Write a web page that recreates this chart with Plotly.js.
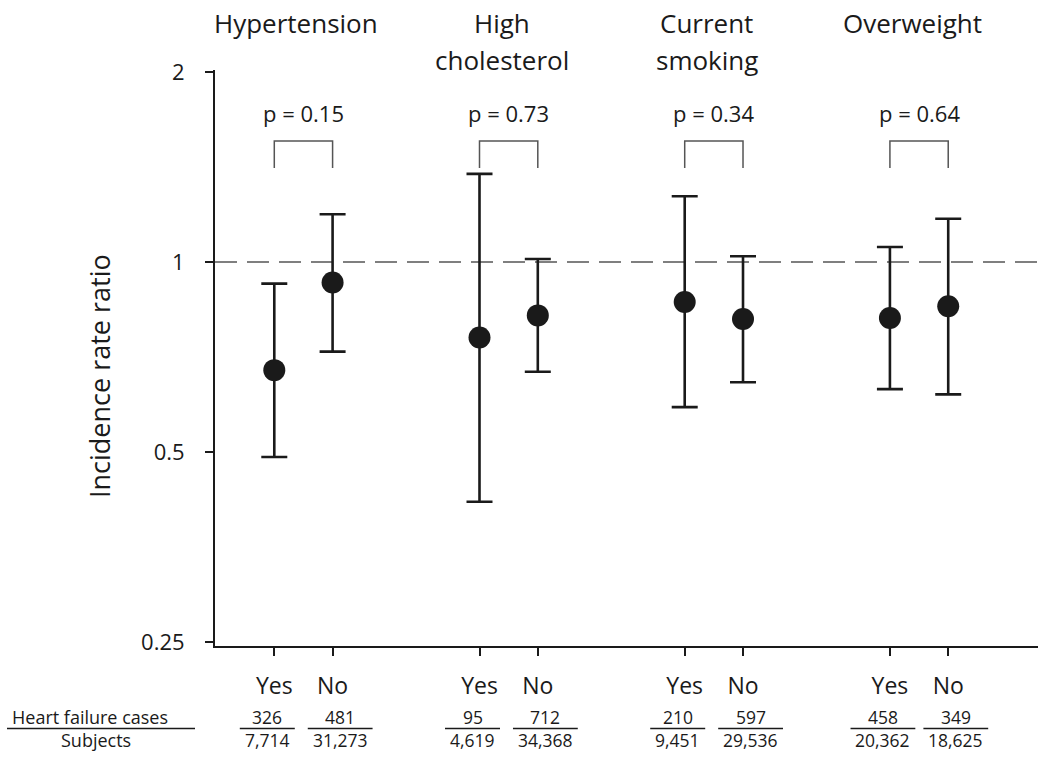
<!DOCTYPE html>
<html>
<head>
<meta charset="utf-8">
<script src="https://cdn.plot.ly/plotly-3.0.1.min.js"></script>
<style>
  html, body { margin: 0; padding: 0; background: #fff; }
  #plot { width: 1050px; height: 763px; }
</style>
</head>
<body>
<div id="plot"></div>
<script>
// Data
const titleLine1 = ['Hypertension', 'High', 'Current', 'Overweight'];
const titleLine2 = ['', 'cholesterol', 'smoking', ''];
const pValues = ['p = 0.15', 'p = 0.73', 'p = 0.34', 'p = 0.64'];
const levels = ['Yes', 'No'];

// incidence rate ratios, [Yes, No] per factor
const irr = [[0.674, 0.928], [0.759, 0.823], [0.864, 0.812], [0.815, 0.851]];
const ciLow = [[0.491, 0.721], [0.417, 0.670], [0.589, 0.645], [0.629, 0.617]];
const ciHigh = [[0.924, 1.19], [1.379, 1.011], [1.271, 1.021], [1.056, 1.171]];

const cases = [['326', '481'], ['95', '712'], ['210', '597'], ['458', '349']];
const subjects = [['7,714', '31,273'], ['4,619', '34,368'], ['9,451', '29,536'], ['20,362', '18,625']];

// Layout helpers
const GROUP_STEP = 3.52;
const FONT = 'Open Sans, Liberation Sans, sans-serif';
const INK = '#1a1a1a';
const PLOT_TOP = 70, PLOT_BOTTOM = 646, PLOT_LEFT = 215, PLOT_RIGHT = 1038;
const H = PLOT_BOTTOM - PLOT_TOP;
const py = p => (PLOT_BOTTOM - p) / H;            // pixel row -> paper y
const pxs = p => (p - PLOT_LEFT) / (PLOT_RIGHT - PLOT_LEFT); // pixel col -> paper x

const xs = [], ys = [], up = [], down = [], tickVals = [], tickText = [];
irr.forEach((pair, g) => {
    pair.forEach((v, j) => {
        const x = g * GROUP_STEP + j;
        xs.push(x);
        ys.push(v);
        up.push(ciHigh[g][j] - v);
        down.push(v - ciLow[g][j]);
        tickVals.push(x);
        tickText.push(levels[j]);
    });
});

const traces = [{
    x: xs,
    y: ys,
    type: 'scatter',
    mode: 'markers',
    marker: { size: 22, color: INK },
    error_y: {
        type: 'data',
        symmetric: false,
        array: up,
        arrayminus: down,
        color: INK,
        thickness: 2.6,
        width: 13
    },
    hoverinfo: 'x+y',
    showlegend: false
}];

const annotations = [];
const shapes = [];

// reference line at 1
shapes.push({
    type: 'line', xref: 'paper', x0: 0, x1: 1, yref: 'y', y0: 1, y1: 1,
    line: { color: '#555', width: 1.5, dash: '22px,10px' }, layer: 'below'
});

titleLine1.forEach((t, g) => {
    const xc = g * GROUP_STEP + 0.5 - 0.12;
    annotations.push({ x: xc, xref: 'x', y: py(23), yref: 'paper', text: t, showarrow: false,
        font: { family: FONT, size: 26, color: INK }, xanchor: 'center', yanchor: 'middle' });
    if (titleLine2[g]) {
        annotations.push({ x: xc, xref: 'x', y: py(60), yref: 'paper', text: titleLine2[g], showarrow: false,
            font: { family: FONT, size: 26, color: INK }, xanchor: 'center', yanchor: 'middle' });
    }
    annotations.push({ x: g * GROUP_STEP + 0.5, xref: 'x', y: py(113), yref: 'paper', text: pValues[g], showarrow: false,
        font: { family: FONT, size: 22, color: INK }, xanchor: 'center', yanchor: 'middle' });

    // bracket joining Yes and No
    shapes.push({
        type: 'path', xref: 'x', yref: 'paper',
        path: `M ${g * GROUP_STEP},${py(168)} L ${g * GROUP_STEP},${py(141)} L ${g * GROUP_STEP + 1},${py(141)} L ${g * GROUP_STEP + 1},${py(168)}`,
        line: { color: '#555', width: 1.5 }
    });

    // cases / subjects fractions
    [0, 1].forEach(j => {
        const xc2 = g * GROUP_STEP + j + (j === 0 ? -0.12 : 0.13);
        annotations.push({ x: xc2, xref: 'x', y: py(717), yref: 'paper', text: cases[g][j], showarrow: false,
            font: { family: FONT, size: 17.5, color: INK }, xanchor: 'center', yanchor: 'middle' });
        annotations.push({ x: xc2, xref: 'x', y: py(740), yref: 'paper', text: subjects[g][j], showarrow: false,
            font: { family: FONT, size: 17.5, color: INK }, xanchor: 'center', yanchor: 'middle' });
        const half = (Math.max(cases[g][j].length, subjects[g][j].length) * 9.8 + 6) / 2 / 58.3;
        shapes.push({
            type: 'line', xref: 'x', yref: 'paper', x0: xc2 - half, x1: xc2 + half, y0: py(728.5), y1: py(728.5),
            line: { color: INK, width: 1.5 }
        });
    });
});

// row labels of the table
annotations.push({ x: pxs(90), xref: 'paper', y: py(717), yref: 'paper', text: 'Heart failure cases', showarrow: false,
    font: { family: FONT, size: 18, color: INK }, xanchor: 'center', yanchor: 'middle' });
annotations.push({ x: pxs(96), xref: 'paper', y: py(740), yref: 'paper', text: 'Subjects', showarrow: false,
    font: { family: FONT, size: 18, color: INK }, xanchor: 'center', yanchor: 'middle' });
shapes.push({
    type: 'line', xref: 'paper', yref: 'paper', x0: pxs(7), x1: pxs(195), y0: py(728.5), y1: py(728.5),
    line: { color: INK, width: 1.5 }
});

// y-axis title
annotations.push({ x: pxs(99), xref: 'paper', y: py(376), yref: 'paper', text: 'Incidence rate ratio', showarrow: false,
    textangle: -90, font: { family: FONT, size: 27, color: INK }, xanchor: 'center', yanchor: 'middle' });

const layout = {
    width: 1050,
    height: 763,
    paper_bgcolor: '#fff',
    plot_bgcolor: '#fff',
    font: { family: FONT, color: INK },
    margin: { l: PLOT_LEFT, r: 1050 - PLOT_RIGHT, t: PLOT_TOP, b: 763 - PLOT_BOTTOM, pad: 0 },
    xaxis: {
        range: [-1.017, 13.1],
        tickvals: tickVals,
        ticktext: tickText,
        ticks: 'outside',
        ticklen: 8,
        tickwidth: 1.5,
        tickcolor: INK,
        ticklabelstandoff: 10,
        tickfont: { family: FONT, size: 23, color: INK },
        showgrid: false,
        zeroline: false,
        showline: true,
        linecolor: INK,
        linewidth: 2
    },
    yaxis: {
        type: 'log',
        range: [Math.log10(0.25) - 4 / 631.2, Math.log10(2) + 2 / 631.2],
        tickvals: [0.25, 0.5, 1, 2],
        ticktext: ['0.25', '0.5', '1', '2'],
        ticks: 'outside',
        ticklen: 8,
        tickwidth: 1.5,
        tickcolor: INK,
        ticklabelstandoff: 16,
        tickfont: { family: FONT, size: 22, color: INK },
        showgrid: false,
        zeroline: false,
        showline: true,
        linecolor: INK,
        linewidth: 2
    },
    annotations: annotations,
    shapes: shapes
};

Plotly.newPlot('plot', traces, layout, { displayModeBar: false, responsive: false });
</script>
</body>
</html>
